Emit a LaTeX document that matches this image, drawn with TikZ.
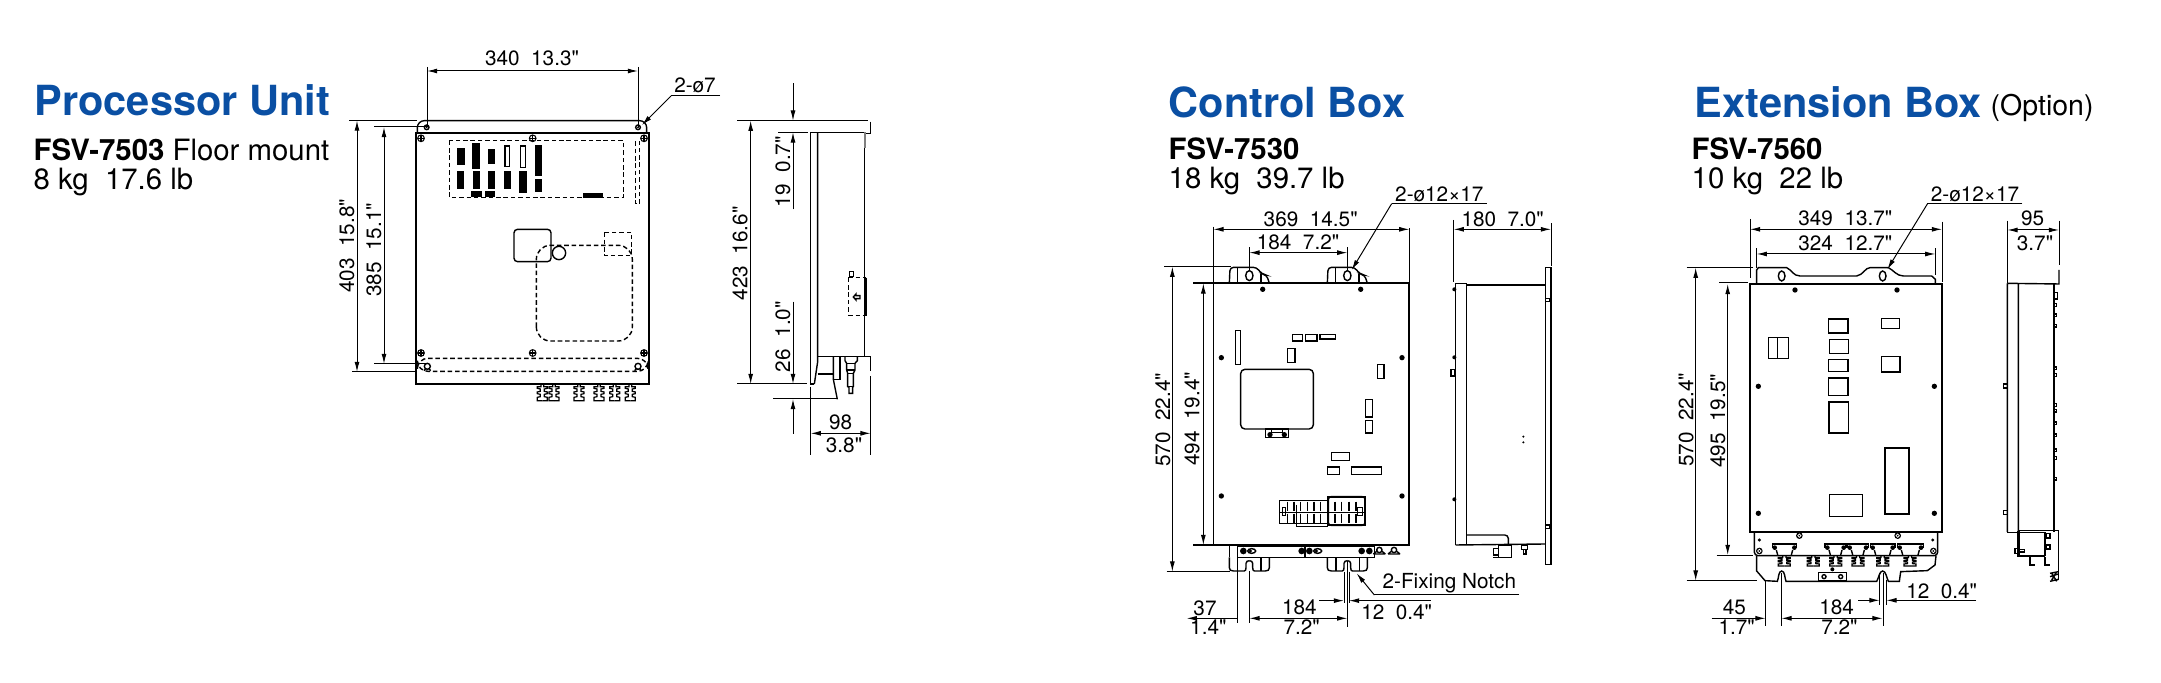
\documentclass[tikz,border=0pt]{standalone}
\usepackage{fontspec}
\setmainfont{TeX Gyre Heros}
\newfontfamily\dimfont{TeX Gyre Heros}
\usepackage{xcolor}
\usetikzlibrary{arrows.meta}
\definecolor{furunoblue}{HTML}{0A4FA3}
\tikzset{
  titletext/.style={font=\fontsize{11.8}{13}\selectfont\bfseries,text=furunoblue,anchor=base west,inner sep=0pt},
  modeltext/.style={font=\fontsize{8.35}{9}\selectfont,anchor=base west,inner sep=0pt},
  dimtext/.style={font=\dimfont\fontsize{5.9}{6}\selectfont,anchor=base,inner sep=0pt},
  dimvert/.style={dimtext,rotate=90},
  dimline/.style={line width=0.28pt},
  part/.style={line width=0.4pt},
  hidden/.style={line width=0.4pt,dash pattern=on 1.3pt off 0.8pt},
  puup/.style={shift={(400,100)},scale=0.33333},
  pudn/.style={shift={(400,270)},scale=0.33333},
  pusd/.style={shift={(720,90)},scale=0.33333},
  cbtop/.style={shift={(1140,60)},scale=0.33333},
  cbmid/.style={shift={(1210,300)},scale=0.33333},
  cbbot/.style={shift={(1140,370)},scale=0.33333},
  extop/.style={shift={(1690,60)},scale=0.33333},
  exmid/.style={shift={(1740,300)},scale=0.33333},
  exbot/.style={shift={(1690,370)},scale=0.33333},
  screwmark/.pic={
    \draw[line width=0.3pt] (0,0) circle[radius=10];
    \draw[line width=0.3pt] (-10,0) -- (10,0) (0,-10) -- (0,10);
  },
  gland/.pic={
    \foreach \s in {-1,1}{
      \draw[line width=0.35pt,xscale=\s] (4,0) -- (4,8) -- (15,8) -- (15,13) -- (6,15) -- (6,22) -- (15,24) -- (15,29) -- (6,31) -- (6,38) -- (15,40) -- (15,50) -- (0,50);
    }
  },
  ctlear/.pic={
    \draw[part,rounded corners=1pt] (-60,0) -- (-58,-48) -- (22,-48) -- (37,-28) -- (52,-25) -- (60,0);
    \draw[part] (-35,-48) -- (-35,0) (35,-28) -- (35,0);
    \draw[part] (0,-23) ellipse[x radius=11,y radius=15];
  },
  ctlfoot/.pic={
    \foreach \s in {-1,1}{
      \draw[part,xscale=\s] (60,0) -- (60,31) .. controls (60,38) and (56,41) .. (48,41) -- (15,41) .. controls (11,41) and (10,36) .. (10,30) -- (10,18) .. controls (10,13) and (5,10) .. (0,10);
    }
  }
}
\begin{document}
\begin{tikzpicture}[x=0.01cm,y=-0.01cm,>={Latex[length=2.9pt,width=1.4pt]}]
  \useasboundingbox (0,0) rectangle (2161,683);
  % Processor Unit
  \node[titletext] (putitle) at (34,116) {Processor Unit};
  \node[modeltext] (pumodel) at (33,161) {\textbf{FSV-7503} Floor mount};
  \node[modeltext] (puweight) at (33,190) {8 kg\ \ 17.6 lb};
  \begin{scope}[puup]
    \draw[part,line width=0.5pt] (47,98) rectangle (748,852);
    \draw[part,rounded corners=2pt] (52,98) -- (52,62) -- (740,62) -- (740,98);
    \foreach \x in {80,714}{
      \draw[part] (\x,82) circle[radius=7];
      \fill (\x,82) circle[radius=3];
    }
    \foreach \x in {63,398,732}{
      \pic[transform shape] at (\x,115) {screwmark};
    }
    \draw[hidden] (148,122) rectangle (670,292);
    \draw[hidden] (706,124) rectangle (719,311);
    \foreach \a/\b/\c/\d in {170/143/194/195,217/130/240/208,264/147/286/192,404/134/425/228,172/213/193/268,218/214/240/268,264/214/286/266,311/214/333/266,358/214/380/280,404/237/426/276,213/274/247/290,256/274/285/290,548/279/608/293}{
      \fill (\a,\b) rectangle (\c,\d);
    }
    \draw[part] (315,138) rectangle (328,200) (362,138) rectangle (376,203);
    \draw[part,rounded corners=1pt] (342,388) rectangle (453,485);
    \draw[part] (477,459) circle[radius=20];
    \draw[hidden] (613,397) rectangle (695,466);
    \draw[hidden,rounded corners=4pt] (409,723) -- (409,436) -- (697,436) -- (697,723) -- cycle;
  \end{scope}
  \begin{scope}[pudn]
    \draw[hidden,rounded corners=3pt] (52,265) -- (52,304) -- (744,304) -- (744,265) -- cycle;
    \foreach \x in {63,398,732}{
      \pic[transform shape] at (\x,249) {screwmark};
    }
    \foreach \x in {82,714}{
      \draw[part] (\x,289) circle[radius=9];
      \draw[part] (\x-10,302) -- (\x-5,296) (\x+10,302) -- (\x+5,296);
    }
    \foreach \x in {427,462,537,597,644,691}{
      \pic[transform shape] at (\x,342) {gland};
    }
  \end{scope}
  % dimensions, front
  \draw[dimline] (427,67) -- (427,127) (638,67) -- (638,127);
  \draw[dimline,<->] (427,71) -- (638,71);
  \node[dimtext] (pua) at (532,66) {340\ \ 13.3"};
  \draw[dimline] (349,120.5) -- (417,120.5) (352,372) -- (417,372);
  \draw[dimline,<->] (357,120.5) -- (357,372);
  \node[dimvert] (pub) at (354,246) {403\ \ 15.8"};
  \draw[dimline] (374,127) -- (427,127) (374,364) -- (427,364);
  \draw[dimline,<->] (384,127) -- (384,364);
  \node[dimvert] (puc) at (381,250) {385\ \ 15.1"};
  \draw[dimline] (720,96) -- (671,96);
  \draw[dimline,->] (671,96) -- (642,125);
  \node[dimtext] (pud) at (695,93) {2-ø7};
  % side view
  \begin{scope}[pusd]
    \draw[part] (283,882) -- (272,882) -- (272,127) -- (433,127) -- (433,800);
    \draw[part] (293,127) -- (293,815) -- (283,882);
    \draw[part] (293,800) -- (452,800) -- (452,843);
    \draw[part] (293,852) -- (340,852);
    \draw[part] (340,800) -- (340,868) -- (352,928);
    \draw[part] (340,868) -- (360,868) -- (360,800);
    \draw[dimline] (52,92) -- (445,92);
    \draw[part] (452,95) -- (452,131) -- (433,131);
    \fill[gray] (433,127) rectangle (438,175);
    \draw[part] (375,800) -- (375,812) -- (380,820) -- (380,840) -- (383,850) -- (383,890) -- (387,892) -- (387,910) -- (398,910) -- (398,892) -- (400,890) -- (400,850) -- (405,840) -- (405,820) -- (412,812) -- (412,800);
    \draw[part] (380,820) -- (405,820) (380,840) -- (405,840) (383,850) -- (400,850) (383,890) -- (400,890);
    \draw[hidden] (385,563) -- (385,677) (385,563) -- (438,563) (385,677) -- (438,677);
    \draw[line width=0.6pt] (438,563) -- (438,677);
    \draw[part] (388,545) rectangle (400,560);
    \draw[part] (400,621) -- (408,612) -- (408,617) -- (420,617) -- (420,626) -- (408,626) -- (408,630) -- cycle;
    % dims
    \draw[dimline] (175,127) -- (265,127) (52,882) -- (260,882) (160,927) -- (350,927);
    \draw[dimline,->] (219,-20) -- (219,92);
    \draw[dimline,->] (219,358) -- (219,127);
    \draw[dimline,->] (219,635) -- (219,882);
    \draw[dimline,->] (219,1032) -- (219,927);
    \draw[dimline,<->] (92,92) -- (92,882);
    \draw[dimline] (452,858) -- (452,1095) (272,890) -- (272,1095);
    \draw[dimline,<->] (272,1030) -- (452,1030);
    \node[dimvert] (pue) at (82,490) {423\ \ 16.6"};
    \node[dimvert] (puf) at (210,245) {19\ \ 0.7"};
    \node[dimvert] (pug) at (210,740) {26\ \ 1.0"};
    \node[dimtext] (puh) at (362,1020) {98};
    \node[dimtext] (pui) at (372,1088) {3.8"};
  \end{scope}
  % Control Box
  \node[titletext] (cbtitle) at (1168,118) {Control Box};
  \node[modeltext] (cbmodel) at (1168,160) {\textbf{FSV-7530}};
  \node[modeltext] (cbweight) at (1168,189) {18 kg\ \ 39.7 lb};
  \begin{scope}[cbtop]
    \draw[line width=0.5pt] (160,670) -- (808,670) -- (808,1455) -- (158,1455);
    \draw[part] (220,670) -- (220,1455);
    \pic[transform shape] at (328,670) {ctlear};
    \pic[transform shape] at (622,670) {ctlear};
    \foreach \x in {368,662}{
      \fill (\x,688) circle[radius=8];
    }
    \draw[dimline] (220,500) -- (220,670) (808,505) -- (808,670);
    \draw[dimline,<->] (220,508) -- (808,508);
    \draw[dimline] (328,562) -- (328,632) (622,562) -- (622,632);
    \draw[dimline,<->] (328,578) -- (622,578);
    \node[dimtext] (cba) at (512,500) {369\ \ 14.5"};
    \node[dimtext] (cbb) at (474,570) {184\ \ 7.2"};
    \draw[dimline] (1040,431) -- (755,431);
    \draw[dimline,->] (755,431) -- (635,630);
    \node[dimtext] (cbc) at (898,425) {2-ø12×17};
    % side
    \draw[dimline] (941,480) -- (941,665) (1233,490) -- (1233,618);
    \draw[dimline,<->] (941,508) -- (1233,508);
    \node[dimtext] (cbd) at (1088,500) {180\ \ 7.0"};
    \draw[part] (947,1455) -- (947,670) -- (980,670) -- (980,1455);
    \draw[part] (980,675) -- (1217,675);
    \draw[part] (1217,622) rectangle (1233,1513);
    \draw[part] (1217,715) rectangle (1230,725);
    \foreach \y in {688,892,1318}{
      \fill (943,\y) circle[radius=6];
    }
    \draw[part] (933,928) rectangle (945,948);
    % left dims
    \draw[dimline] (72,620) -- (272,620);
    \draw[dimline,<->] (97,620) -- (97,1535);
    \draw[dimline,<->] (190,670) -- (190,1455);
    \node[dimvert] (cbe) at (90,1080) {570\ \ 22.4"};
    \node[dimvert] (cbf) at (178,1077) {494\ \ 19.4"};
  \end{scope}
  \begin{scope}[cbmid]
    \foreach \a/\b/\c/\d in {76/91/92/193,247/103/278/123,286/103/321/123,330/103/377/117,232/146/255/188,502/193/522/235,467/298/488/351,467/361/488/399,364/458/418/482,352/501/388/524,424/501/515/524,723/208/735/229}{
      \draw[part] (\a,\b) rectangle (\c,\d);
    }
    \draw[part,rounded corners=1.2pt] (92,208) rectangle (310,387);
    \draw[part] (167,387) rectangle (235,412);
    \fill (180,404) circle[radius=8] (223,404) circle[radius=8];
    \draw[part] (185,387) -- (185,397) -- (218,397) -- (218,387);
    \foreach \p in {(34,173),(576,173),(34,588),(576,588)}{
      \fill \p circle[radius=8];
    }
    \fill (940,410) circle[radius=3.5] (940,427) circle[radius=3.5];
  \end{scope}
  \begin{scope}[cbbot]
    % terminal block
    \draw[part] (418,392) rectangle (565,460);
    \draw[part,rounded corners=0.8pt] (565,380) rectangle (675,466);
    \draw[part] (470,405) -- (470,470) -- (565,470);
    \draw[part] (418,427) -- (675,427);
    \foreach \x in {442,462,482,502,522,542,565,585,605,627,648}{
      \draw[part] (\x,395) -- (\x,422) (\x,431) -- (\x,460);
    }
    \draw[part] (428,413) rectangle (436,437) (652,413) rectangle (668,437);
    \draw[line width=0.6pt] (565,380) rectangle (675,466);
    % bottom strip
    \pic[transform shape] at (328,562) {ctlfoot};
    \pic[transform shape] at (622,562) {ctlfoot};
    \draw[part] (268,525) -- (268,562);
    \draw[part] (293,525) -- (293,603) (363,562) -- (363,603) (588,562) -- (588,603) (658,562) -- (658,603);
    \draw[part] (293,528) rectangle (495,562) (495,530) rectangle (703,562);
    \foreach \x in {310,485,508,665,688}{
      \fill (\x,543) circle[radius=10];
    }
    \foreach \x in {335,533}{
      \draw[part] (\x,543) ellipse[x radius=12,y radius=7];
      \fill (\x-4,543) circle[radius=5];
    }
    \foreach \x in {718,762}{
      \draw[part] (\x,540) circle[radius=8];
      \draw[part] (\x-18,552) -- (\x-8,544) (\x+18,552) -- (\x+8,544) (\x-18,552) -- (\x+18,552);
    }
    % lower dims
    \draw[dimline] (80,605) -- (270,605);
    \draw[dimline] (293,603) -- (293,758) (328,603) -- (328,758) (622,572) -- (622,770) (612,605) -- (612,700) (627,605) -- (627,700);
    \draw[dimline,->] (293,745) -- (140,745);
    \draw[dimline,<->] (328,745) -- (622,745);
    \draw[dimline,->] (538,692) -- (612,692);
    \draw[dimline,->] (872,692) -- (627,692);
    \node[dimtext] (cbg) at (195,737) {37};
    \node[dimtext] (cbh) at (205,795) {1.4"};
    \node[dimtext] (cbi) at (478,733) {184};
    \node[dimtext] (cbj) at (485,795) {7.2"};
    \node[dimtext] (cbk) at (770,750) {12\ \ 0.4"};
    \node[dimtext] (cbl) at (928,655) {2-Fixing Notch};
    \draw[dimline] (1137,675) -- (703,675);
    \draw[dimline,->] (703,675) -- (650,610);
    % side lower
    \draw[part] (947,525) -- (1217,522);
    \draw[part,rounded corners=1pt] (980,495) -- (1105,495) -- (1105,522);
    \draw[part] (1217,465) rectangle (1230,475);
    \draw[part] (1075,525) rectangle (1115,563);
    \draw[part] (1060,535) rectangle (1075,555);
    \draw[part] (1075,563) -- (1060,563);
    \draw[part] (1145,525) rectangle (1163,538) (1150,538) rectangle (1158,552);
  \end{scope}
  % Extension Box
  \node[titletext] (extitle) at (1694,118) {Extension Box};
  \node[modeltext,font=\fontsize{8.1}{9}\selectfont] (exoption) at (1990,116) {(Option)};
  \node[modeltext] (exmodel) at (1691,160) {\textbf{FSV-7560}};
  \node[modeltext] (exweight) at (1691,189) {10 kg\ \ 22 lb};
  \begin{scope}[extop]
    \draw[line width=0.5pt] (180,672) rectangle (757,1416);
    \draw[part] (200,672) -- (200,630) -- (205,623) -- (290,623) .. controls (305,630) and (310,648) .. (330,648) -- (500,648) .. controls (520,645) and (525,623) .. (540,623) -- (595,623) .. controls (610,630) and (620,648) .. (640,648) -- (725,648) -- (736,658) -- (736,672);
    \foreach \x in {275,578}{
      \draw[part] (\x,648) ellipse[x radius=10,y radius=15];
    }
    \foreach \x in {315,621}{
      \fill (\x,690) circle[radius=8];
    }
    \draw[dimline] (180,477) -- (180,655) (756,485) -- (756,665);
    \draw[dimline,<->] (180,508) -- (756,508);
    \draw[dimline] (200,565) -- (200,623) (736,565) -- (736,645);
    \draw[dimline,<->] (200,582) -- (736,582);
    \node[dimtext] (exa) at (466,497) {349\ \ 13.7"};
    \node[dimtext] (exb) at (466,572) {324\ \ 12.7"};
    \draw[dimline] (997,432) -- (712,432);
    \draw[dimline,->] (712,432) -- (592,628);
    \node[dimtext] (exc) at (855,425) {2-ø12×17};
    % side
    \draw[dimline] (952,482) -- (952,670) (1107,482) -- (1107,615);
    \draw[dimline,<->] (952,510) -- (1107,510);
    \node[dimtext] (exd) at (1028,497) {95};
    \node[dimtext] (exe) at (1035,572) {3.7"};
    \draw[part] (952,670) -- (952,1416) (985,670) -- (985,1416) (952,670) -- (1107,672) -- (1107,630);
    \draw[part] (1092,672) -- (1092,1416);
    \foreach \y in {735,766,797}{
      \draw[part] (1092,\y-4) rectangle (1099,\y+4);
    }
    \draw[part] (1094,697) rectangle (1103,717) (1092,921) rectangle (1099,929) (1092,940) rectangle (1099,950);
    % left dims
    \draw[dimline] (-10,623) -- (190,623) (87,668) -- (175,668);
    \draw[dimline,<->] (17,623) -- (17,1562);
    \draw[dimline,<->] (113,672) -- (113,1485);
    \node[dimvert] (exf) at (10,1080) {570\ \ 22.4"};
    \node[dimvert] (exg) at (105,1083) {495\ \ 19.5"};
  \end{scope}
  \begin{scope}[exmid]
    \foreach \a/\b/\c/\d in {265/57/324/99,268/118/325/160,265/179/324/214,265/234/324/287,267/306/326/399,425/55/479/86,424/170/480/216,86/112/145/176}{
      \draw[part] (\a,\b) rectangle (\c,\d);
    }
    \draw[part] (112,112) -- (112,176);
    \draw[part] (435,444) rectangle (507,642);
    \draw[part] (268,583) rectangle (368,650);
  \end{scope}
  \begin{scope}[exbot]
    \foreach \p in {(205,49),(733,49),(205,430),(733,430)}{
      \fill \p circle[radius=8];
    }
    % strip
    \draw[part,rounded corners=1pt] (193,487) -- (193,557) -- (743,557) -- (743,487);
    \foreach \p in {(328,497),(623,497),(208,543),(730,543)}{
      \fill \p circle[radius=10];
      \draw[white,line width=0.2pt] \p circle[radius=5];
    }
    \fill (208,510) circle[radius=5] (728,510) circle[radius=5];
    \foreach \a/\b in {247/320,405/468,472/535,541/615,622/700}{
      \draw[part] (\a,533) -- (\a,522) -- (\b,522) -- (\b,533);
      \draw[part] (\a+12,540) -- (\a+16,555) (\b-12,540) -- (\b-16,555);
      \fill (\a+7,533) circle[radius=7] (\b-7,533) circle[radius=7];
    }
    \foreach \x in {283,370,437,504,578,660}{
      \pic[transform shape,xscale=1.2,yscale=0.6] at (\x,558) {gland};
    }
    \draw[part] (200,557) -- (200,603) -- (225,632) -- (262,634) .. controls (266,625) and (265,603) .. (275,603) .. controls (285,603) and (284,625) .. (288,634) -- (560,634) .. controls (566,625) and (568,603) .. (578,603) .. controls (588,603) and (590,625) .. (595,634) -- (628,634) -- (632,605) -- (712,602) -- (735,585) -- (738,557);
    \draw[part] (385,608) rectangle (470,631);
    \draw[part] (402,620) circle[radius=6] (452,620) circle[radius=6];
    \fill (427,598) circle[radius=6];
    % lower dims
    \draw[dimline] (-10,632) -- (200,632) (80,556) -- (190,556);
    \draw[dimline] (227,634) -- (227,768) (274,610) -- (274,768) (580,610) -- (580,768) (569,610) -- (569,705) (589,630) -- (589,705);
    \draw[dimline,->] (65,745) -- (227,745);
    \draw[dimline,<->] (274,745) -- (578,745);
    \draw[dimline,->] (505,691) -- (569,691);
    \draw[dimline,->] (858,691) -- (589,691);
    \node[dimtext] (exh) at (133,735) {45};
    \node[dimtext] (exi) at (140,795) {1.7"};
    \node[dimtext] (exj) at (440,735) {184};
    \node[dimtext] (exk) at (448,795) {7.2"};
    \node[dimtext] (exl) at (755,685) {12\ \ 0.4"};
    % side lower
    \draw[part] (952,487) -- (985,487);
    \draw[line width=0.8pt] (985,482) -- (985,558) -- (1065,558);
    \draw[part] (985,482) -- (1105,482) -- (1105,630);
    \draw[part] (1065,487) -- (1065,558) (985,487) -- (1065,487);
    \draw[line width=0.7pt] (1020,560) -- (1020,585) -- (1035,585) (1065,560) -- (1065,585) -- (1080,585);
    \foreach \y in {105,122,160,196,241,264,326}{
      \draw[part] (1092,\y-4) rectangle (1099,\y+4);
    }
    \foreach \y in {48,427}{
      \draw[part] (941,\y-6) rectangle (952,\y+6);
    }
    \draw[part] (1068,490) rectangle (1080,504) (1068,525) rectangle (1080,537);
    \draw[part] (975,535) rectangle (988,550) (988,538) rectangle (1003,546);
    \draw[part] (1080,610) -- (1105,605) (1080,620) -- (1105,612) (1080,634) -- (1105,628) (1085,610) -- (1100,634) (1100,605) -- (1085,630);
  \end{scope}
\end{tikzpicture}
\end{document}
